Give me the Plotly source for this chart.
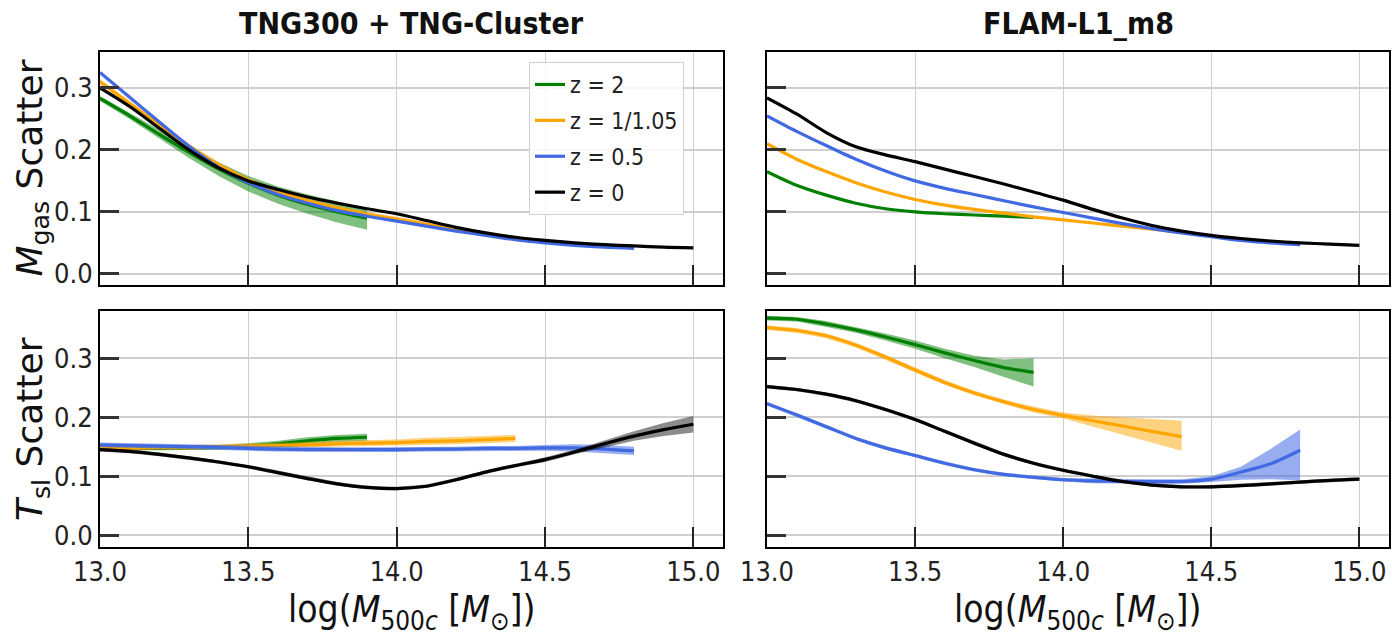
import plotly.graph_objects as go

# ---------------------------------------------------------------------------
# Data: scatter of M_gas and T_sl around the mean relation vs. halo mass
# ---------------------------------------------------------------------------
MASS = [13.0, 13.1, 13.2, 13.3, 13.4, 13.5, 13.6, 13.7, 13.8, 13.9, 14.0,
        14.1, 14.2, 14.3, 14.4, 14.5, 14.6, 14.7, 14.8, 14.9, 15.0]

REDSHIFTS = ["z = 2", "z = 1/1.05", "z = 0.5", "z = 0"]
LINE_COLORS = ["#008000", "#FFA500", "#4169E1", "#000000"]
BAND_COLORS = ["rgba(0,128,0,0.5)", "rgba(255,165,0,0.5)",
               "rgba(65,105,225,0.55)", "rgba(0,0,0,0.45)"]

X_TICKS = [13.0, 13.5, 14.0, 14.5, 15.0]
Y_TICKS = [0.0, 0.1, 0.2, 0.3]

# --- TNG300 + TNG-Cluster, M_gas scatter
tng_mgas_z2 = [0.283, 0.255, 0.225, 0.196, 0.169, 0.146, 0.127, 0.112, 0.100, 0.090]
tng_mgas_z2_lo = [0.279, 0.250, 0.218, 0.187, 0.158, 0.133, 0.113, 0.097, 0.083, 0.071]
tng_mgas_z2_hi = [0.287, 0.260, 0.232, 0.205, 0.180, 0.158, 0.141, 0.128, 0.117, 0.106]
tng_mgas_z1 = [0.310, 0.275, 0.240, 0.206, 0.176, 0.151, 0.133, 0.118, 0.106, 0.096,
               0.088, 0.080, 0.072, 0.065, 0.058]
tng_mgas_z1_lo = [0.306, 0.271, 0.236, 0.202, 0.172, 0.147, 0.129, 0.114, 0.102, 0.092,
                  0.084, 0.076, 0.068, 0.062, 0.055]
tng_mgas_z1_hi = [0.314, 0.279, 0.244, 0.210, 0.180, 0.155, 0.137, 0.122, 0.110, 0.100,
                  0.092, 0.084, 0.076, 0.068, 0.061]
tng_mgas_z05 = [0.325, 0.285, 0.245, 0.206, 0.172, 0.147, 0.128, 0.114, 0.102, 0.093,
                0.085, 0.077, 0.069, 0.062, 0.055, 0.050, 0.046, 0.043, 0.041]
tng_mgas_z0 = [0.300, 0.270, 0.235, 0.200, 0.171, 0.150, 0.136, 0.124, 0.114, 0.105,
               0.097, 0.086, 0.075, 0.066, 0.059, 0.054, 0.050, 0.047, 0.045, 0.043, 0.042]

# --- FLAM-L1_m8, M_gas scatter
flam_mgas_z2 = [0.165, 0.143, 0.127, 0.114, 0.105, 0.100, 0.097, 0.095, 0.093, 0.091]
flam_mgas_z1 = [0.210, 0.185, 0.165, 0.147, 0.132, 0.120, 0.111, 0.104, 0.098, 0.092,
                0.087, 0.082, 0.077, 0.072, 0.067]
flam_mgas_z05 = [0.255, 0.230, 0.207, 0.185, 0.166, 0.150, 0.138, 0.128, 0.118, 0.108,
                 0.099, 0.090, 0.081, 0.073, 0.066, 0.060, 0.054, 0.050, 0.047]
flam_mgas_z0 = [0.284, 0.258, 0.228, 0.205, 0.192, 0.181, 0.169, 0.157, 0.145, 0.132,
                0.119, 0.104, 0.090, 0.078, 0.069, 0.062, 0.057, 0.053, 0.050, 0.048, 0.046]

# --- TNG300 + TNG-Cluster, T_sl scatter
tng_tsl_z2 = [0.147, 0.147, 0.147, 0.148, 0.149, 0.151, 0.155, 0.160, 0.164, 0.166]
tng_tsl_z2_lo = [0.144, 0.144, 0.144, 0.144, 0.145, 0.146, 0.150, 0.154, 0.158, 0.160]
tng_tsl_z2_hi = [0.150, 0.150, 0.150, 0.152, 0.153, 0.156, 0.160, 0.166, 0.170, 0.172]
tng_tsl_z1 = [0.148, 0.148, 0.149, 0.149, 0.150, 0.151, 0.152, 0.153, 0.155, 0.156,
              0.157, 0.159, 0.160, 0.162, 0.164]
tng_tsl_z1_lo = [0.144, 0.144, 0.145, 0.145, 0.146, 0.147, 0.147, 0.148, 0.150, 0.151,
                 0.152, 0.153, 0.154, 0.156, 0.158]
tng_tsl_z1_hi = [0.152, 0.152, 0.153, 0.153, 0.154, 0.155, 0.157, 0.158, 0.160, 0.161,
                 0.162, 0.165, 0.166, 0.168, 0.170]
tng_tsl_z05 = [0.153, 0.152, 0.151, 0.150, 0.149, 0.147, 0.146, 0.145, 0.145, 0.145,
               0.145, 0.146, 0.146, 0.147, 0.147, 0.148, 0.148, 0.146, 0.143]
tng_tsl_z05_lo = [0.149, 0.148, 0.147, 0.146, 0.145, 0.143, 0.142, 0.141, 0.141, 0.141,
                  0.141, 0.142, 0.142, 0.143, 0.143, 0.143, 0.142, 0.139, 0.136]
tng_tsl_z05_hi = [0.157, 0.156, 0.155, 0.154, 0.153, 0.151, 0.150, 0.149, 0.149, 0.149,
                  0.149, 0.150, 0.150, 0.151, 0.151, 0.153, 0.154, 0.153, 0.150]
tng_tsl_z0 = [0.145, 0.142, 0.137, 0.131, 0.124, 0.116, 0.106, 0.096, 0.087, 0.081,
              0.079, 0.083, 0.094, 0.107, 0.118, 0.128, 0.141, 0.155, 0.168, 0.179, 0.188]
tng_tsl_z0_lo = [0.142, 0.139, 0.134, 0.128, 0.121, 0.113, 0.103, 0.093, 0.084, 0.078,
                 0.076, 0.080, 0.091, 0.104, 0.115, 0.124, 0.137, 0.149, 0.160, 0.168, 0.174]
tng_tsl_z0_hi = [0.148, 0.145, 0.140, 0.134, 0.127, 0.119, 0.109, 0.099, 0.090, 0.084,
                 0.082, 0.086, 0.097, 0.110, 0.121, 0.132, 0.145, 0.161, 0.176, 0.190, 0.202]

# --- FLAM-L1_m8, T_sl scatter
flam_tsl_z2 = [0.368, 0.366, 0.358, 0.348, 0.336, 0.323, 0.309, 0.296, 0.284, 0.276]
flam_tsl_z2_lo = [0.364, 0.362, 0.353, 0.343, 0.330, 0.316, 0.300, 0.285, 0.268, 0.252]
flam_tsl_z2_hi = [0.372, 0.370, 0.363, 0.353, 0.342, 0.330, 0.316, 0.304, 0.298, 0.300]
flam_tsl_z1 = [0.352, 0.347, 0.338, 0.322, 0.302, 0.280, 0.259, 0.241, 0.226, 0.213,
               0.203, 0.194, 0.185, 0.176, 0.167]
flam_tsl_z1_lo = [0.348, 0.343, 0.334, 0.318, 0.298, 0.276, 0.255, 0.237, 0.222, 0.208,
                  0.198, 0.184, 0.170, 0.157, 0.143]
flam_tsl_z1_hi = [0.356, 0.351, 0.342, 0.326, 0.306, 0.284, 0.263, 0.245, 0.230, 0.218,
                  0.208, 0.203, 0.200, 0.197, 0.194]
flam_tsl_z05 = [0.223, 0.204, 0.184, 0.164, 0.148, 0.135, 0.122, 0.111, 0.103, 0.098,
                0.094, 0.092, 0.091, 0.091, 0.091, 0.095, 0.107, 0.121, 0.144]
flam_tsl_z05_lo = [0.220, 0.201, 0.181, 0.161, 0.145, 0.132, 0.119, 0.108, 0.100, 0.095,
                   0.091, 0.088, 0.087, 0.087, 0.087, 0.090, 0.094, 0.095, 0.093]
flam_tsl_z05_hi = [0.226, 0.207, 0.187, 0.167, 0.151, 0.138, 0.125, 0.114, 0.106, 0.101,
                   0.097, 0.096, 0.095, 0.095, 0.095, 0.100, 0.116, 0.146, 0.179]
flam_tsl_z0 = [0.252, 0.247, 0.239, 0.228, 0.213, 0.196, 0.176, 0.156, 0.137, 0.122,
               0.110, 0.100, 0.091, 0.085, 0.082, 0.082, 0.084, 0.087, 0.090, 0.093, 0.095]
flam_tsl_z0_lo = [0.249, 0.244, 0.236, 0.225, 0.210, 0.193, 0.173, 0.153, 0.134, 0.119,
                  0.107, 0.097, 0.088, 0.082, 0.079, 0.079, 0.081, 0.084, 0.087, 0.090, 0.092]
flam_tsl_z0_hi = [0.255, 0.250, 0.242, 0.231, 0.216, 0.199, 0.179, 0.159, 0.140, 0.125,
                  0.113, 0.103, 0.094, 0.088, 0.085, 0.085, 0.087, 0.090, 0.093, 0.096, 0.098]

# panel -> list of (center, lo, hi) per redshift (same order as REDSHIFTS)
PANELS = {
    ("x", "y"): [(tng_mgas_z2, tng_mgas_z2_lo, tng_mgas_z2_hi),
                 (tng_mgas_z1, tng_mgas_z1_lo, tng_mgas_z1_hi),
                 (tng_mgas_z05, None, None),
                 (tng_mgas_z0, None, None)],
    ("x2", "y2"): [(flam_mgas_z2, None, None),
                   (flam_mgas_z1, None, None),
                   (flam_mgas_z05, None, None),
                   (flam_mgas_z0, None, None)],
    ("x3", "y3"): [(tng_tsl_z2, tng_tsl_z2_lo, tng_tsl_z2_hi),
                   (tng_tsl_z1, tng_tsl_z1_lo, tng_tsl_z1_hi),
                   (tng_tsl_z05, tng_tsl_z05_lo, tng_tsl_z05_hi),
                   (tng_tsl_z0, tng_tsl_z0_lo, tng_tsl_z0_hi)],
    ("x4", "y4"): [(flam_tsl_z2, flam_tsl_z2_lo, flam_tsl_z2_hi),
                   (flam_tsl_z1, flam_tsl_z1_lo, flam_tsl_z1_hi),
                   (flam_tsl_z05, flam_tsl_z05_lo, flam_tsl_z05_hi),
                   (flam_tsl_z0, flam_tsl_z0_lo, flam_tsl_z0_hi)],
}

FONT = "DejaVu Sans Condensed, Liberation Sans Narrow, DejaVu Sans"
FONT_WIDE = "DejaVu Sans"

fig = go.Figure()

for (xa, ya), series in PANELS.items():
    first_panel = (xa == "x")
    for i, (center, lo, hi) in enumerate(series):
        xs = MASS[:len(center)]
        if lo is not None:
            # shaded uncertainty band: upper edge out, lower edge back
            fig.add_trace(go.Scatter(
                x=xs + xs[::-1], y=hi + lo[::-1], xaxis=xa, yaxis=ya,
                mode="lines", fill="toself", fillcolor=BAND_COLORS[i],
                line=dict(width=0), legendgroup=REDSHIFTS[i],
                hoverinfo="skip", showlegend=False))
        fig.add_trace(go.Scatter(
            x=xs, y=center, xaxis=xa, yaxis=ya, mode="lines",
            name=REDSHIFTS[i], legendgroup=REDSHIFTS[i],
            line=dict(color=LINE_COLORS[i], width=3.2, shape="spline", smoothing=0.8),
            showlegend=first_panel))

W, H = 1392, 638
# plot-area edges in pixels
LEFT_X = (100, 723)
RIGHT_X = (767, 1389)
TOP_Y = (52, 285)
BOT_Y = (311, 547)


def xdom(px):
    return [px[0] / W, px[1] / W]


def ydom(py):
    return [1 - py[1] / H, 1 - py[0] / H]


def xaxis_cfg(px, anchor, labels):
    return dict(domain=xdom(px), anchor=anchor, range=[13.0, 15.1],
                tickvals=X_TICKS, tickformat=".1f", showticklabels=labels,
                ticks="inside", ticklen=20, tickwidth=1.5, tickcolor="#222",
                showline=True, mirror=True, linecolor="black", linewidth=2,
                showgrid=True, gridcolor="#cfcfcf", gridwidth=1, zeroline=False,
                tickfont=dict(size=27, family=FONT, color="#222"), automargin=False)


def yaxis_cfg(py, anchor, rng, labels):
    return dict(domain=ydom(py), anchor=anchor, range=rng,
                tickvals=Y_TICKS, tickformat=".1f", showticklabels=labels,
                ticks="inside", ticklen=19, tickwidth=2.5, tickcolor="#333",
                showline=True, mirror=True, linecolor="black", linewidth=2,
                showgrid=True, gridcolor="#cfcfcf", gridwidth=2, zeroline=False,
                tickfont=dict(size=27, family=FONT, color="#222"), automargin=False)


TOP_RANGE = [-0.018, 0.358]
BOT_RANGE = [-0.02, 0.38]

fig.update_layout(
    width=W, height=H,
    margin=dict(l=0, r=0, t=0, b=0),
    paper_bgcolor="white", plot_bgcolor="white",
    font=dict(family=FONT, color="#111"),
    xaxis=xaxis_cfg(LEFT_X, "y", False),
    yaxis=yaxis_cfg(TOP_Y, "x", TOP_RANGE, True),
    xaxis2=xaxis_cfg(RIGHT_X, "y2", False),
    yaxis2=yaxis_cfg(TOP_Y, "x2", TOP_RANGE, False),
    xaxis3=xaxis_cfg(LEFT_X, "y3", True),
    yaxis3=yaxis_cfg(BOT_Y, "x3", BOT_RANGE, True),
    xaxis4=xaxis_cfg(RIGHT_X, "y4", True),
    yaxis4=yaxis_cfg(BOT_Y, "x4", BOT_RANGE, False),
    legend=dict(x=529 / W, y=1 - 62 / H, xanchor="left", yanchor="top",
                bgcolor="rgba(255,255,255,0.85)", bordercolor="#d0d0d0",
                borderwidth=1, font=dict(size=23, family=FONT, color="#222"),
                tracegroupgap=3, traceorder="grouped"),
)

annotations = [
    dict(text="<b>TNG300 + TNG-Cluster</b>", x=sum(LEFT_X) / 2 / W, y=1 - 24 / H,
         font=dict(size=30, family=FONT, color="#111")),
    dict(text="<b>FLAM-L1_m8</b>", x=sum(RIGHT_X) / 2 / W, y=1 - 24 / H,
         font=dict(size=30, family=FONT, color="#111")),
    dict(text="<i>M</i><sub>gas</sub> Scatter", x=32 / W, y=1 - sum(TOP_Y) / 2 / H,
         textangle=-90, font=dict(size=36, family=FONT_WIDE, color="#111")),
    dict(text="<i>T</i><sub>sl</sub> Scatter", x=32 / W, y=1 - sum(BOT_Y) / 2 / H,
         textangle=-90, font=dict(size=36, family=FONT_WIDE, color="#111")),
    dict(text="log(<i>M</i><sub>500<i>c</i></sub> [<i>M</i><sub>⊙</sub>])",
         x=sum(LEFT_X) / 2 / W, y=1 - 612 / H,
         font=dict(size=37, family=FONT, color="#111")),
    dict(text="log(<i>M</i><sub>500<i>c</i></sub> [<i>M</i><sub>⊙</sub>])",
         x=sum(RIGHT_X) / 2 / W, y=1 - 612 / H,
         font=dict(size=37, family=FONT, color="#111")),
]
for a in annotations:
    a.update(xref="paper", yref="paper", showarrow=False,
             xanchor="center", yanchor="middle")
fig.update_layout(annotations=annotations)

fig.write_html("out.html")
